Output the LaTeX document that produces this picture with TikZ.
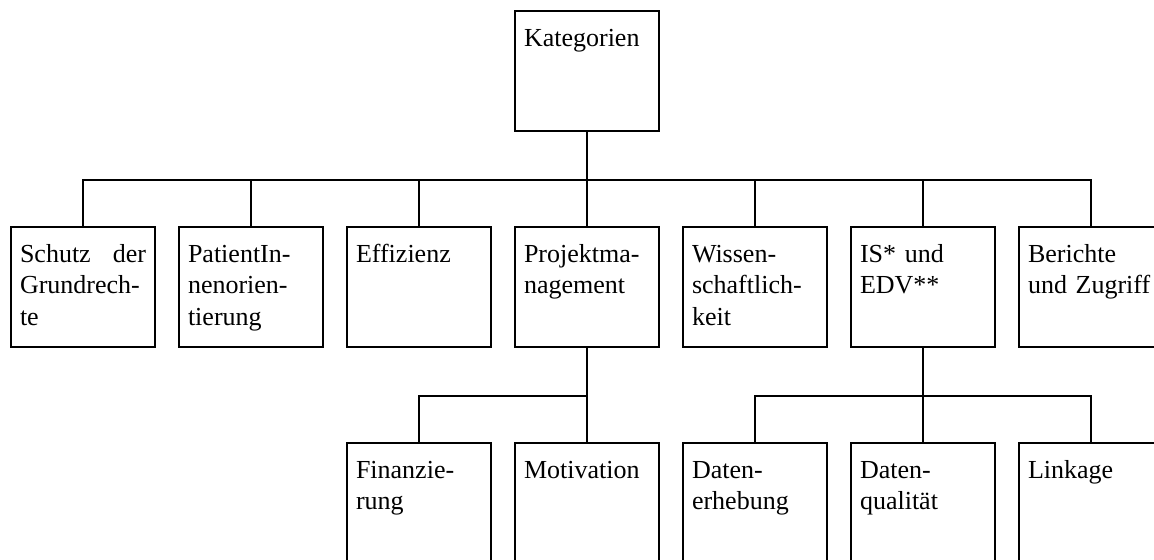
\documentclass[tikz,border=0pt]{standalone}
\usepackage{fontspec}
\setmainfont{Liberation Serif}
\usetikzlibrary{positioning}
\tikzstyle{box}=[draw, line width=1pt, anchor=north west, inner xsep=4.5pt, inner ysep=0pt, text width=63pt, align=left, text height=17.5pt, text depth=42.5pt, font=\fontsize{13}{15.75}\selectfont]
\tikzstyle{con}=[line width=1pt]

\begin{document}
\begin{tikzpicture}[x=0.5pt,y=-0.5pt]
	\useasboundingbox (0,0) rectangle (1154,559);
	\node[box] (0) at (514,10) {Kategorien};
	\node[box] (1) at (10,226) {Schutz\hfill der\\Grundrech-\\te};
	\node[box] (2) at (178,226) {PatientIn-\\nenorien-\\tierung};
	\node[box] (3) at (346,226) {Effizienz};
	\node[box] (4) at (514,226) {Projektma-\\nagement};
	\node[box] (5) at (682,226) {Wissen-\\schaftlich-\\keit};
	\node[box] (6) at (850,226) {IS* und\\EDV**};
	\node[box] (7) at (1018,226) {Berichte\\\mbox{und Zugriff}};
	\node[box] (8) at (346,442) {Finanzie-\\rung};
	\node[box] (9) at (514,442) {Motivation};
	\node[box] (10) at (682,442) {Daten-\\erhebung};
	\node[box] (11) at (850,442) {Daten-\\qualität};
	\node[box] (12) at (1018,442) {Linkage};
	% first level
	\draw[con] (0.south) -- ++(0,48) -| (1.north);
	\draw[con] (0.south) -- ++(0,48) -| (2.north);
	\draw[con] (0.south) -- ++(0,48) -| (3.north);
	\draw[con] (0.south) -- (4.north);
	\draw[con] (0.south) -- ++(0,48) -| (5.north);
	\draw[con] (0.south) -- ++(0,48) -| (6.north);
	\draw[con] (0.south) -- ++(0,48) -| (7.north);
	% second level
	\draw[con] (4.south) -- ++(0,48) -| (8.north);
	\draw[con] (4.south) -- ++(0,48) -| (9.north);
	\draw[con] (6.south) -- ++(0,48) -| (10.north);
	\draw[con] (6.south) -- (11.north);
	\draw[con] (6.south) -- ++(0,48) -| (12.north);
\end{tikzpicture}
\end{document}
